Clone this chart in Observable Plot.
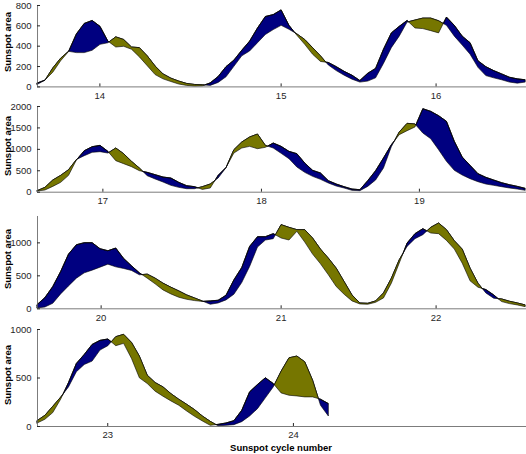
<!DOCTYPE html>
<html><head><meta charset="utf-8">
<script src="https://cdn.jsdelivr.net/npm/d3@7"></script>
<script src="https://cdn.jsdelivr.net/npm/@observablehq/plot@0.6"></script>
<style>
body{margin:0;background:#fff;}
#wrap{position:relative;width:526px;height:454px;overflow:hidden;font-family:"Liberation Sans",Arial,sans-serif;}
.panel{position:absolute;left:0;}
.ylab{position:absolute;width:100px;height:12px;line-height:12px;text-align:center;font-weight:bold;font-size:9.5px;color:#000;transform:rotate(-90deg);transform-origin:50% 50%;white-space:nowrap;}
#xlab{position:absolute;left:181px;width:200px;top:442px;text-align:center;font-weight:bold;font-size:9.5px;color:#000;line-height:11px;}
</style></head><body><div id="wrap"><div id="xlab">Sunspot cycle number</div></div>
<script>
// half-year offsets from each panel's start year
const yearOffsets = [0,0.5,1,1.5,2,2.5,3,3.5,4,4.5,5,5.5,6,6.5,7,7.5,8,8.5,9,9.5,10,10.5,11,11.5,12,12.5,13,13.5,14,14.5,15,15.5,16,16.5,17,17.5,18,18.5,19,19.5,20,20.5,21,21.5,22,22.5,23,23.5,24,24.5,25,25.5,26,26.5,27,27.5,28,28.5,29,29.5,30,30.5,31];
const panelStarts = [1903, 1934, 1965, 1996];
const panelSpan = 31.05;

// Panel 1 (cycles 14-16)
const p1North = [32,62,139,252,342,516,619,648,590,445,387,394,365,290,203,116,74,48,23,10,3,6,35,97,194,258,355,445,574,687,706,752,600,503,413,316,245,235,194,148,110,58,129,177,365,526,590,648,574,568,548,526,681,600,494,429,252,194,155,123,90,74,65];
const p1South = [19,60,181,277,345,332,332,355,413,429,487,461,387,381,300,200,123,81,52,29,19,16,10,39,94,197,300,348,429,510,558,600,561,516,461,381,300,210,155,110,71,42,52,84,226,381,494,632,652,671,671,645,600,494,406,316,187,106,84,65,42,32,42];
// Panel 2 (cycles 17-19)
const p2North = [16,39,124,218,381,740,957,1050,1081,941,724,654,584,490,451,397,342,319,218,140,117,54,86,381,565,902,1019,1058,1004,1035,1136,1058,941,887,669,498,436,257,179,117,62,47,257,490,786,1097,1330,1424,1510,1937,1875,1774,1642,1175,809,615,420,335,272,210,163,124,78];
const p2South = [23,101,272,381,513,750,840,918,934,902,1019,887,708,552,373,296,226,148,101,70,70,117,179,319,560,980,1159,1276,1346,1081,1019,895,770,576,451,358,288,202,132,86,31,23,124,272,552,1050,1393,1595,1580,1369,1237,980,708,498,389,303,233,179,148,117,86,62,31];
// Panel 3 (cycles 20-22)
const p3North = [55,162,330,558,822,964,995,995,904,873,914,756,645,538,457,371,279,218,168,137,117,105,112,122,198,431,619,939,1086,1086,1132,1066,1036,1168,1005,822,675,508,330,213,112,66,61,91,157,381,685,990,1132,1208,1142,1132,1030,898,685,416,320,284,203,102,71,51,25];
const p3South = [5,20,76,218,340,457,538,579,624,670,629,604,574,508,518,457,381,320,264,203,157,110,61,81,127,213,391,634,929,1035,1056,1269,1228,1193,1193,1066,898,761,609,406,203,81,76,112,233,457,736,939,1056,1117,1228,1294,1193,1025,898,609,381,233,152,142,107,81,51];
// Panel 4 (cycles 23-24)
const p4North = [30,69,138,276,448,645,738,841,883,897,828,852,697,497,438,359,307,259,214,155,100,52,7,17,31,55,162,352,428,497,438,341,317,310,300,300,276,231];
const p4South = [55,110,203,297,403,559,634,669,783,828,921,945,862,721,524,448,403,334,276,224,169,103,48,2,7,14,45,103,179,290,403,565,703,721,662,472,214,103];

// cycle-number tick labels and their positions (years)
const p1Ticks = [1906.96, 1918.47, 1928.31], p1Labels = ["14","15","16"];
const p2Ticks = [1938.15, 1948.22, 1958.25], p2Labels = ["17","18","19"];
const p3Ticks = [1969.04, 1980.47, 1990.31], p3Labels = ["20","21","22"];
const p4Ticks = [2000.46, 2012.25], p4Labels = ["23","24"];

const p1YTicks = [0,200,400,600,800];
const p2YTicks = [0,500,1000,1500,2000];
const p3YTicks = [0,500,1000];
const p4YTicks = [0,500,1000];
const yMax = [800, 2000, 1400, 1000];

const BLUE = "#000080", OLIVE = "#767600";

function buildRows(start, north, south) {
  const rows = [];
  for (let i = 0; i < north.length; i++) {
    const t = start + yearOffsets[i];
    if (i > 0) {
      const d0 = north[i-1] - south[i-1], d1 = north[i] - south[i];
      if (d0 * d1 < 0) {
        const f = d0 / (d0 - d1);
        const t0 = rows[rows.length-1].t;
        const v = north[i-1] + f * (north[i] - north[i-1]);
        rows.push({t: t0 + f * (t - t0), n: v, s: v});
      }
    }
    rows.push({t, n: north[i], s: south[i]});
  }
  return rows;
}

const panels = [
  {north: p1North, south: p1South, ticks: p1Ticks, labels: p1Labels, yTicks: p1YTicks, top: 4.6, bottom: 86},
  {north: p2North, south: p2South, ticks: p2Ticks, labels: p2Labels, yTicks: p2YTicks, top: 106.3, bottom: 192},
  {north: p3North, south: p3South, ticks: p3Ticks, labels: p3Labels, yTicks: p3YTicks, top: 216, bottom: 308.3},
  {north: p4North, south: p4South, ticks: p4Ticks, labels: p4Labels, yTicks: p4YTicks, top: 329, bottom: 426}
];

const wrap = document.getElementById("wrap");
const MT = 8, MB = 24;
panels.forEach((p, idx) => {
  const start = panelStarts[idx];
  const rows = buildRows(start, p.north, p.south);
  const labelMap = new Map(p.ticks.map((t, i) => [t, p.labels[i]]));
  const inner = p.bottom - p.top;
  const chart = Plot.plot({
    width: 526,
    height: inner + MT + MB,
    marginTop: MT, marginBottom: MB, marginLeft: 37, marginRight: 0,
    style: {background: "transparent", fontFamily: '"Liberation Sans", Arial, sans-serif', fontSize: "9.5px", color: "#262626", overflow: "visible"},
    x: {domain: [start, start + panelSpan]},
    y: {domain: [0, yMax[idx]]},
    marks: [
      Plot.areaY(rows, {x: "t", y1: "s", y2: d => Math.max(d.n, d.s), fill: BLUE, stroke: "#000", strokeWidth: 0.6, strokeLinejoin: "round"}),
      Plot.areaY(rows, {x: "t", y1: "n", y2: d => Math.max(d.n, d.s), fill: OLIVE, stroke: "#000", strokeWidth: 0.6, strokeLinejoin: "round"}),
      Plot.ruleY([0], {stroke: "#5a5a5a", strokeWidth: 0.8}),
      Plot.ruleX([start], {stroke: "#5a5a5a", strokeWidth: 0.8}),
      Plot.axisY({ticks: p.yTicks, tickFormat: d3.format("d"), tickSize: -3, tickPadding: 9, label: null}),
      Plot.axisX({ticks: p.ticks, tickFormat: d => labelMap.get(d), tickSize: -3, tickPadding: 8, label: null})
    ]
  });
  chart.classList.add("panel");
  chart.style.top = (p.top - MT) + "px";
  wrap.appendChild(chart);
  const yl = document.createElement("div");
  yl.className = "ylab";
  yl.textContent = "Sunspot area";
  const cy = (p.top + p.bottom) / 2 - 3;
  yl.style.left = (8 - 50) + "px";
  yl.style.top = (cy - 6) + "px";
  wrap.appendChild(yl);
});
</script></body></html>
